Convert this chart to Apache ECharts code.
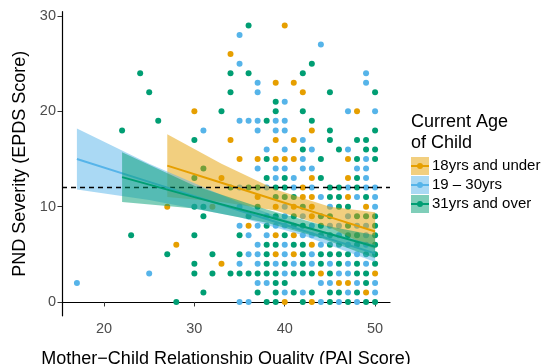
<!DOCTYPE html>
<html>
<head>
<meta charset="utf-8">
<script src="https://cdn.jsdelivr.net/npm/echarts@6/dist/echarts.min.js"></script>
<style>
  html, body { margin: 0; padding: 0; background: #fff; }
  #chart { width: 543px; height: 364px; }
</style>
</head>
<body>
<div id="chart"></div>
<script>
const xTicks = [20, 30, 40, 50];
const yTicks = [0, 10, 20, 30];
const groupNames = ['18yrs and under', '19 \u2013 30yrs', '31yrs and over'];
const groupColors = ['#E69F00', '#56B4E9', '#009E73'];

// points, [PAI, EPDS]
const ptsUnder18 = [
  [40,29],[34,26],[39,23],[41,23],[42,22],[30,20],[48,20],[43,18],[34,17],[39,17],[41,17],
  [35,15],[37,15],[39,15],[40,15],[41,15],[47,15],[33,13],[43,13],[47,13],[42,12],
  [37,11],[42,11],[43,11],[47,11],[27,10],[32,10],[39,10],[41,10],[43,10],[49,10],
  [43,9],[36,8],[39,7],[41,7],[28,6],[43,6],[39,5],[41,5],[33,4],[44,3],[50,3],
  [46,2],[47,2],[49,1],[40,0],[43,0]
];
const pts19to30 = [
  [35,28],[44,27],[35,25],[49,24],[37,23],[49,23],[37,22],[40,21],[47,20],[50,20],
  [35,19],[36,19],[37,19],[39,19],[40,19],[31,18],[37,18],[39,18],[40,18],[42,17],
  [38,16],[40,16],[43,16],[47,16],[42,15],[49,15],
  [37,14],[39,14],[40,14],[42,14],[43,14],[48,14],[49,14],[39,13],[41,13],[49,13],
  [35,12],[38,12],[41,12],[43,12],[47,12],[49,12],[50,12],[44,11],[48,11],[50,11],
  [35,10],[40,10],[45,10],[50,10],[38,9],[40,9],[42,9],[47,9],
  [35,8],[37,8],[39,8],[40,8],[43,8],[45,8],[46,8],[48,8],[49,8],
  [36,7],[38,7],[42,7],[43,7],[46,7],[49,7],[37,6],[40,6],[44,6],[47,6],[49,6],
  [36,5],[37,5],[40,5],[43,5],[48,5],[35,4],[37,4],[39,4],[41,4],[43,4],[45,4],[47,4],[49,4],
  [25,3],[40,3],[46,3],[47,3],[17,2],[37,2],[38,2],[44,2],[45,2],[48,2],[50,2],
  [40,1],[42,1],[47,1],[50,1],[35,0],[36,0],[44,0],[46,0],[48,0]
];
const pts31plus = [
  [36,29],[43,25],[24,24],[34,24],[36,24],[42,24],[25,22],[34,22],[45,22],[50,22],[39,21],
  [33,20],[39,20],[42,20],[26,19],[38,19],[43,19],[22,18],[45,18],[50,18],
  [30,17],[45,17],[48,17],[49,17],[42,16],[46,16],[49,16],[50,16],[38,15],[44,15],[48,15],[50,15],
  [31,14],[30,13],[38,13],[40,13],[44,13],[48,13],
  [34,12],[36,12],[37,12],[39,12],[40,12],[45,12],[46,12],[48,12],
  [39,11],[40,11],[41,11],[45,11],[46,11],[49,11],[30,10],[31,10],[37,10],[42,10],[46,10],[47,10],
  [31,9],[36,9],[39,9],[41,9],[44,9],[45,9],[48,9],[49,9],[50,9],
  [38,8],[41,8],[42,8],[44,8],[47,8],[50,8],
  [23,7],[30,7],[35,7],[40,7],[44,7],[45,7],[47,7],[48,7],[50,7],
  [38,6],[39,6],[41,6],[42,6],[45,6],[46,6],[48,6],[50,6],
  [27,5],[32,5],[35,5],[38,5],[42,5],[44,5],[45,5],[46,5],[47,5],[49,5],[50,5],
  [30,4],[38,4],[40,4],[42,4],[44,4],[46,4],[48,4],[50,4],
  [30,3],[32,3],[34,3],[35,3],[36,3],[37,3],[38,3],[39,3],[41,3],[42,3],[43,3],[45,3],[48,3],[49,3],
  [39,2],[40,2],[49,2],[31,1],[37,1],[39,1],[41,1],[43,1],[45,1],[46,1],[48,1],
  [28,0],[38,0],[39,0],[42,0],[45,0],[47,0],[49,0],[50,0]
];

// fitted lines and confidence bands, read at a few x positions
const fitUnder18X = [27, 33, 39, 45, 50];
const fitUnder18 = [14.3, 12.5, 10.7, 8.9, 7.4];
const fitUnder18Lo = [11.0, 10.5, 9.6, 7.8, 5.5];
const fitUnder18Hi = [17.6, 14.5, 11.8, 10.0, 9.4];

const fit19to30X = [17, 25, 35, 42, 50];
const fit19to30 = [15.0, 12.6, 9.6, 7.5, 5.1];
const fit19to30Lo = [11.8, 10.7, 8.9, 7.0, 4.2];
const fit19to30Hi = [18.2, 14.5, 10.4, 8.0, 6.0];

const fit31plusX = [22, 30, 38, 44, 50];
const fit31plus = [13.1, 11.0, 9.0, 7.4, 5.8];
const fit31plusLo = [10.5, 9.8, 8.3, 6.7, 4.6];
const fit31plusHi = [15.7, 12.2, 9.7, 8.1, 7.0];

const cutoff = 12;

const FONT = '"Liberation Sans", Arial, sans-serif';

function hexA(hex, a) {
  const n = parseInt(hex.slice(1), 16);
  return `rgba(${n >> 16},${(n >> 8) & 255},${n & 255},${a})`;
}

function bandSeries(xs, lo, hi, color, z) {
  return {
    type: 'custom',
    z: z,
    silent: true,
    data: xs.map((x, i) => [x, lo[i], hi[i]]),
    encode: { x: 0, y: [1, 2] },
    renderItem: function (params, api) {
      if (params.dataIndex !== 0) return;
      const top = xs.map((x, i) => api.coord([x, hi[i]]));
      const bot = xs.map((x, i) => api.coord([x, lo[i]])).reverse();
      return {
        type: 'polygon',
        shape: { points: top.concat(bot) },
        style: { fill: hexA(color, 0.5) }
      };
    }
  };
}

function fitSeries(xs, ys, color, z) {
  return {
    type: 'line',
    z: z,
    silent: true,
    showSymbol: false,
    data: xs.map((x, i) => [x, ys[i]]),
    lineStyle: { color: color, width: 2 }
  };
}

function scatterSeries(pts, color) {
  return {
    type: 'scatter',
    z: 1,
    data: pts,
    symbolSize: 6,
    itemStyle: { color: color, opacity: 1 }
  };
}

const chart = echarts.init(document.getElementById('chart'));

const legendItems = [];
groupNames.forEach((name, i) => {
  const y0 = 157 + i * 19;
  legendItems.push(
    { type: 'rect', left: 411, top: y0, shape: { width: 18, height: 18 }, style: { fill: hexA(groupColors[i], 0.5) } },
    { type: 'line', shape: { x1: 411, y1: y0 + 9, x2: 429, y2: y0 + 9 }, style: { stroke: groupColors[i], lineWidth: 2 } },
    { type: 'circle', shape: { cx: 420, cy: y0 + 9, r: 3 }, style: { fill: groupColors[i] } },
    { type: 'text', left: 432, top: y0 + 1, style: { text: name, font: '15px ' + FONT, fill: '#000' } }
  );
});

const option = {
  animation: false,
  backgroundColor: '#fff',
  grid: { left: 62, right: 153, top: 11.7, bottom: 48.2, outerBoundsMode: 'none' },
  xAxis: {
    type: 'value',
    min: 15.35, max: 51.65,
    name: 'Mother\u2212Child Relationship Quality (PAI Score)',
    nameLocation: 'middle',
    nameGap: 34,
    nameTextStyle: { fontFamily: FONT, fontSize: 18, color: '#000' },
    axisLine: { lineStyle: { color: '#000', width: 1.2 } },
    axisTick: { length: 4.5, lineStyle: { color: '#333' }, customValues: xTicks },
    axisLabel: { customValues: xTicks, fontFamily: FONT, fontSize: 14.5, color: '#4d4d4d', margin: 6 },
    splitLine: { show: false }
  },
  yAxis: {
    type: 'value',
    min: -1.45, max: 30.45,
    name: 'PND Severity (EPDS Score)',
    nameLocation: 'middle',
    nameGap: 33,
    nameTextStyle: { fontFamily: FONT, fontSize: 18, color: '#000' },
    axisLine: { show: true, lineStyle: { color: '#000', width: 1.2 } },
    axisTick: { show: true, length: 4.5, lineStyle: { color: '#333' }, customValues: yTicks },
    axisLabel: { customValues: yTicks, fontFamily: FONT, fontSize: 14.5, color: '#4d4d4d', margin: 6 },
    splitLine: { show: false }
  },
  graphic: [
    { type: 'text', left: 411, top: 112, style: { text: 'Current Age\nof Child', font: '18px ' + FONT, lineHeight: 21, fill: '#000' } }
  ].concat(legendItems),
  series: [
    scatterSeries(ptsUnder18, groupColors[0]),
    scatterSeries(pts19to30, groupColors[1]),
    scatterSeries(pts31plus, groupColors[2]),
    bandSeries(fitUnder18X, fitUnder18Lo, fitUnder18Hi, groupColors[0], 2),
    fitSeries(fitUnder18X, fitUnder18, groupColors[0], 3),
    bandSeries(fit19to30X, fit19to30Lo, fit19to30Hi, groupColors[1], 4),
    fitSeries(fit19to30X, fit19to30, groupColors[1], 5),
    bandSeries(fit31plusX, fit31plusLo, fit31plusHi, groupColors[2], 6),
    Object.assign(fitSeries(fit31plusX, fit31plus, groupColors[2], 7), {
      markLine: {
        silent: true,
        symbol: 'none',
        label: { show: false },
        lineStyle: { color: '#000', type: [5, 4], width: 1.3 },
        data: [{ yAxis: cutoff }]
      }
    })
  ]
};

chart.setOption(option);
</script>
</body>
</html>
